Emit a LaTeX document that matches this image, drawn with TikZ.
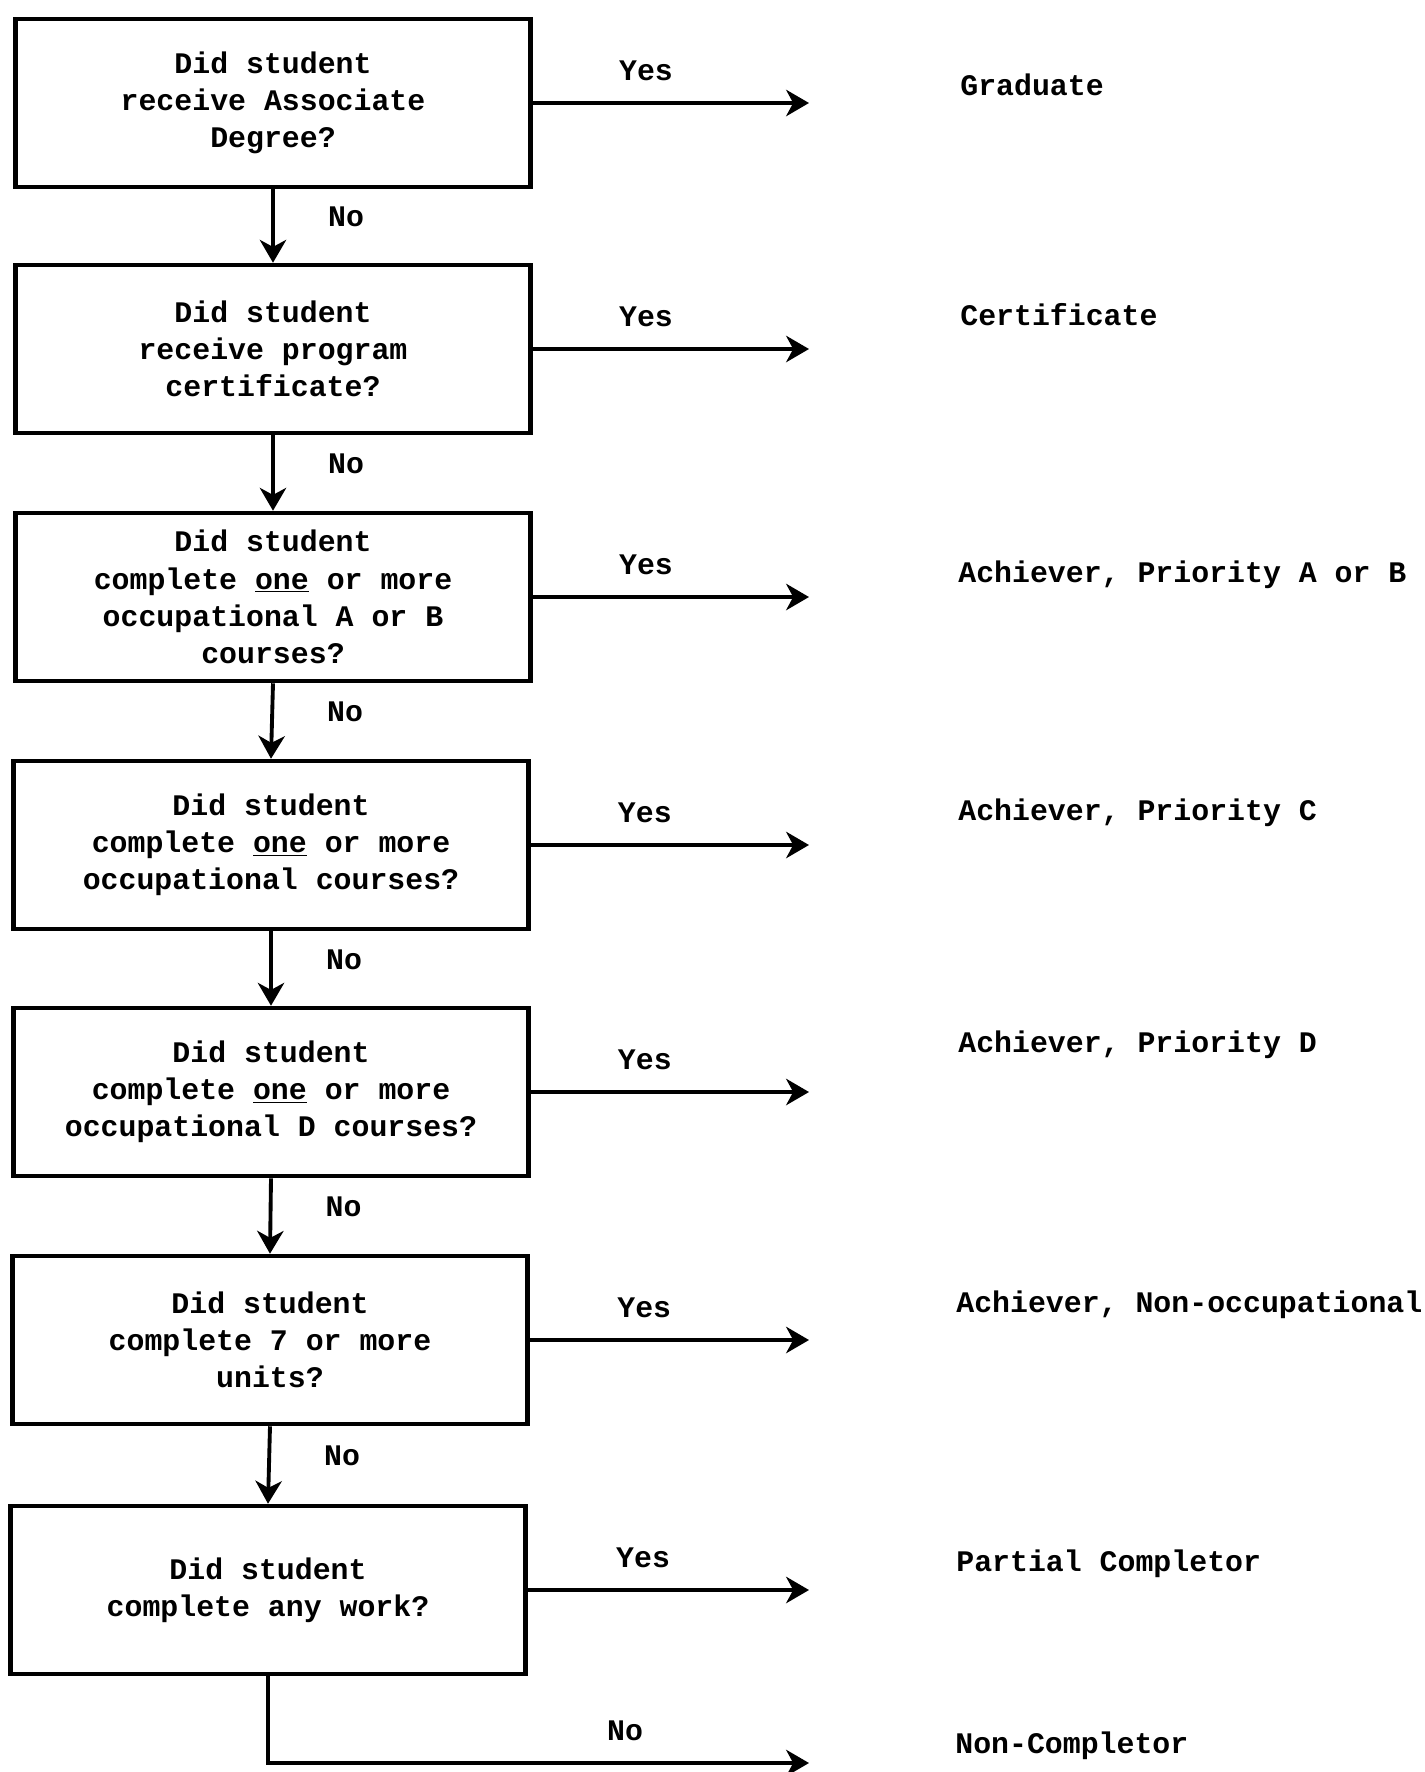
\documentclass[tikz,border=0pt]{standalone}
\usepackage{fontspec}
\setmainfont{Liberation Mono}
\usepackage{tikz}
\usetikzlibrary{arrows.meta}

\begin{document}
\begin{tikzpicture}[x=0.02cm, y=-0.02cm,
  font=\fontsize{17}{21.2}\selectfont\bfseries,
  qbox/.style={draw, line width=2.6pt, minimum width=10.3cm, minimum height=3.36cm, align=center, inner sep=0pt},
  flow/.style={line width=2.2pt, -{Stealth[length=13pt, width=15pt, inset=4pt]}},
  result/.style={anchor=west, inner sep=0pt}]
\useasboundingbox (0,0) rectangle (1424,1772);

% Nodes
\node[qbox] (q1) at (273,103) {Did student\\receive Associate\\Degree?};
\node[qbox] (q2) at (273,349) {Did student\\receive program\\certificate?};
\node[qbox] (q3) at (273,597) {Did student\\complete \underline{one} or more\\occupational A or B\\courses?};
\node[qbox] (q4) at (271,845) {Did student\\complete \underline{one} or more\\occupational courses?};
\node[qbox] (q5) at (271,1092) {Did student\\complete \underline{one} or more\\occupational D courses?};
\node[qbox] (q6) at (270,1340) {Did student\\complete 7 or more\\units?};
\node[qbox] (q7) at (268,1590) {Did student\\complete any work?};

\node[result] (r1) at (960,85) {Graduate};
\node[result] (r2) at (960,315) {Certificate};
\node[result] (r3) at (958,575) {Achiever, Priority A or B};
\node[result] (r4) at (958,813) {Achiever, Priority C};
\node[result] (r5) at (958,1045) {Achiever, Priority D};
\node[result] (r6) at (956,1305) {Achiever, Non-occupational};
\node[result] (r7) at (956,1564) {Partial Completor};
\node[result] (r8) at (955,1746) {Non-Completor};

\coordinate (e1) at (809,103);
\coordinate (e2) at (809,349);
\coordinate (e3) at (809,597);
\coordinate (e4) at (809,845);
\coordinate (e5) at (809,1092);
\coordinate (e6) at (809,1340);
\coordinate (e7) at (809,1590);
\coordinate (e8) at (809,1763);

% Arrows
\foreach \i in {1,...,7}
  \draw[flow] (q\i.east) -- (e\i) node[pos=0.41, above=8pt] {Yes};
\foreach \i/\j in {1/2,2/3,3/4,4/5,5/6,6/7}
  \draw[flow] (q\i.south) -- (q\j.north) node[midway, right=27pt, yshift=5pt] {No};
\draw[flow] (q7.south) |- (e8) node[pos=0.83, above=8pt] {No};
\end{tikzpicture}
\end{document}
